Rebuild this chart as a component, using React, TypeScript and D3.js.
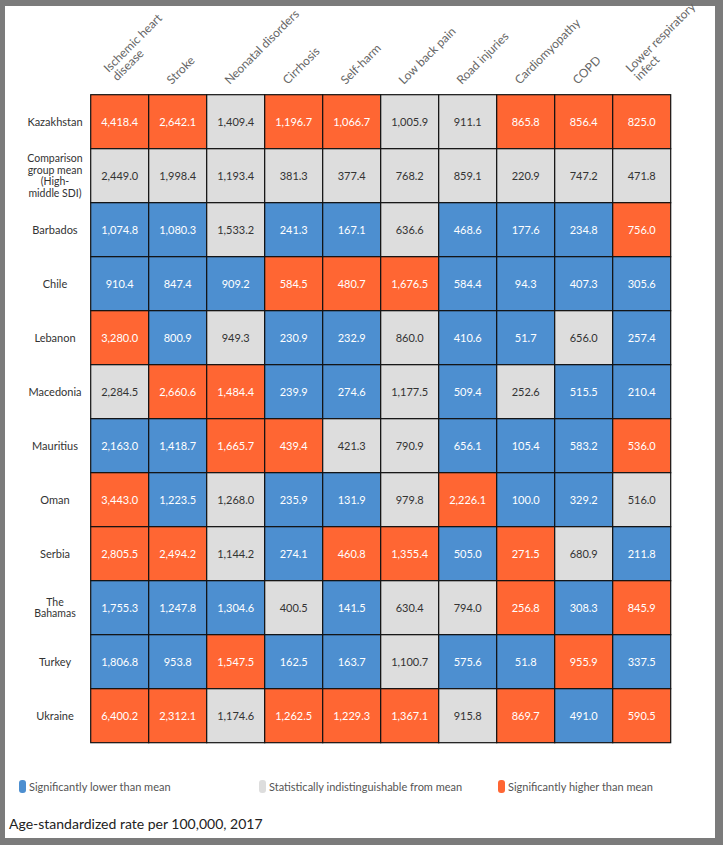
import * as d3 from "d3";

// column headers (line breaks as in the original)
const causes = [
  ["Ischemic heart", "disease"],
  ["Stroke"],
  ["Neonatal disorders"],
  ["Cirrhosis"],
  ["Self-harm"],
  ["Low back pain"],
  ["Road injuries"],
  ["Cardiomyopathy"],
  ["COPD"],
  ["Lower respiratory", "infect"],
];

const locations = [
  ["Kazakhstan"],
  ["Comparison", "group mean", "(High-", "middle SDI)"],
  ["Barbados"],
  ["Chile"],
  ["Lebanon"],
  ["Macedonia"],
  ["Mauritius"],
  ["Oman"],
  ["Serbia"],
  ["The", "Bahamas"],
  ["Turkey"],
  ["Ukraine"],
];

// age-standardized rate per 100,000
const rates = [
  [4418.4, 2642.1, 1409.4, 1196.7, 1066.7, 1005.9, 911.1, 865.8, 856.4, 825.0],
  [2449.0, 1998.4, 1193.4, 381.3, 377.4, 768.2, 859.1, 220.9, 747.2, 471.8],
  [1074.8, 1080.3, 1533.2, 241.3, 167.1, 636.6, 468.6, 177.6, 234.8, 756.0],
  [910.4, 847.4, 909.2, 584.5, 480.7, 1676.5, 584.4, 94.3, 407.3, 305.6],
  [3280.0, 800.9, 949.3, 230.9, 232.9, 860.0, 410.6, 51.7, 656.0, 257.4],
  [2284.5, 2660.6, 1484.4, 239.9, 274.6, 1177.5, 509.4, 252.6, 515.5, 210.4],
  [2163.0, 1418.7, 1665.7, 439.4, 421.3, 790.9, 656.1, 105.4, 583.2, 536.0],
  [3443.0, 1223.5, 1268.0, 235.9, 131.9, 979.8, 2226.1, 100.0, 329.2, 516.0],
  [2805.5, 2494.2, 1144.2, 274.1, 460.8, 1355.4, 505.0, 271.5, 680.9, 211.8],
  [1755.3, 1247.8, 1304.6, 400.5, 141.5, 630.4, 794.0, 256.8, 308.3, 845.9],
  [1806.8, 953.8, 1547.5, 162.5, 163.7, 1100.7, 575.6, 51.8, 955.9, 337.5],
  [6400.2, 2312.1, 1174.6, 1262.5, 1229.3, 1367.1, 915.8, 869.7, 491.0, 590.5],
];

// L = lower, N = not different, H = higher than mean
const significance = [
  "HHNHHNNHHH",
  "NNNNNNNNNN",
  "LLNLLNLLLH",
  "LLLHHHLLLL",
  "HLNLLNLLNL",
  "NHHLLNLNLL",
  "LLHHNNLLLH",
  "HLNLLNHLLN",
  "HHNLHHLHNL",
  "LLLNLNNHLH",
  "LLHLLNLLHL",
  "HHNHHHNHLH",
];

const legendKeys = ["L", "N", "H"];
const legendLabels = [
  "Significantly lower than mean",
  "Statistically indistinguishable from mean",
  "Significantly higher than mean",
];

const W = 723;
const H = 845;
const FONT = "Lato, 'Open Sans', sans-serif";

const fill: Record<string, string> = { L: "#4d8fd0", N: "#dddddd", H: "#ff6633" };

export default function App() {
  const x = d3
    .scaleBand<number>()
    .domain(d3.range(causes.length))
    .range([90.7, 670.7]);
  const y = d3
    .scaleBand<number>()
    .domain(d3.range(locations.length))
    .range([94.7, 742.7]);
  const fmt = d3.format(",.1f");
  const legendX = [19, 259, 498];

  return (
    <div style={{ position: "absolute", left: 0, top: 0 }}>
      <svg width={W} height={H} style={{ display: "block", fontFamily: FONT }}>
        <rect x={0} y={0} width={W} height={H} fill="#7b7b7b" />
        <rect x={5} y={6} width={710} height={832} fill="#ffffff" />

        {/* column headers */}
        {causes.map((lines, j) => {
          const cx = x(j)! + x.bandwidth() / 2 - 6;
          const shift = lines.length > 1 ? 5 : 0;
          return (
            <g key={j} transform={`translate(${cx},85) rotate(-45)`}>
              {lines.map((t, k) => (
                <text
                  key={k}
                  x={shift}
                  y={(k - (lines.length - 1)) * 12}
                  fontSize={12}
                  fill="#666"
                >
                  {t}
                </text>
              ))}
            </g>
          );
        })}

        {/* row labels */}
        {locations.map((lines, i) => {
          const cy = y(i)! + y.bandwidth() / 2;
          const lh = 11.5;
          return (
            <text key={i} textAnchor="middle" fontSize={lines.length > 1 ? 10.5 : 11} fill="#333">
              {lines.map((t, k) => (
                <tspan
                  key={k}
                  x={55}
                  y={cy + (k - (lines.length - 1) / 2) * lh}
                  dominantBaseline="central"
                >
                  {t}
                </tspan>
              ))}
            </text>
          );
        })}

        {/* cells */}
        {rates.map((row, i) =>
          row.map((v, j) => {
            const s = significance[i][j];
            return (
              <g key={`${i}-${j}`}>
                <rect
                  x={x(j)}
                  y={y(i)}
                  width={x.bandwidth()}
                  height={y.bandwidth()}
                  fill={fill[s]}
                  stroke="#111"
                  strokeWidth={1.2}
                />
                <text
                  x={x(j)! + x.bandwidth() / 2}
                  y={y(i)! + y.bandwidth() / 2}
                  textAnchor="middle"
                  dominantBaseline="central"
                  fontSize={11}
                  fill={s === "N" ? "#333" : "#ffffff"}
                >
                  {fmt(v)}
                </text>
              </g>
            );
          })
        )}

        {/* legend */}
        {legendKeys.map((k, i) => (
          <g key={k} transform={`translate(${legendX[i]},780)`}>
            <rect x={0} y={0} width={7} height={13} rx={3} fill={fill[k]} />
            <text x={10} y={6.5} dominantBaseline="central" fontSize={11} fill="#555">
              {legendLabels[i]}
            </text>
          </g>
        ))}

        <text x={9} y={823} dominantBaseline="central" fontSize={14} fill="#222">
          Age-standardized rate per 100,000, 2017
        </text>
      </svg>
    </div>
  );
}
